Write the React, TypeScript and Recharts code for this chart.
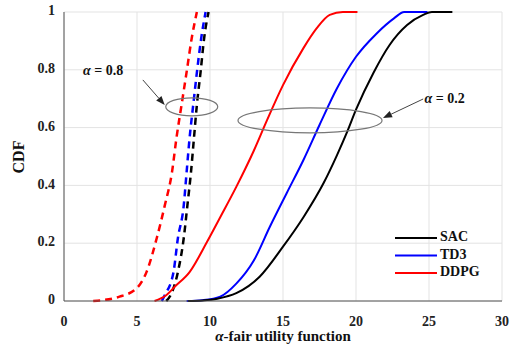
import React from 'react';
import { LineChart, Line, XAxis, YAxis, CartesianGrid, ReferenceDot, ReferenceLine, Legend } from 'recharts';

const sacSolidX = [8.5, 9.5, 10.5, 11.8, 13.4, 15.0, 16.4, 17.8, 18.7, 19.4, 20.0, 21.2, 22.3, 23.5, 24.6, 25.2, 26.6];
const sacSolidY = [0, 0.002, 0.008, 0.027, 0.084, 0.188, 0.29, 0.41, 0.505, 0.586, 0.662, 0.79, 0.886, 0.955, 0.99, 1, 1];
const td3SolidX = [8.4, 9.5, 10.7, 11.8, 13.0, 14.1, 15.25, 16.4, 17.5, 18.7, 20.0, 21.4, 22.6, 23.3, 24.9];
const td3SolidY = [0, 0.003, 0.015, 0.06, 0.14, 0.257, 0.373, 0.488, 0.609, 0.736, 0.845, 0.925, 0.978, 1, 1];
const ddpgSolidX = [6.2, 7.0, 7.6, 8.6, 9.8, 10.7, 11.8, 13.0, 13.9, 15.0, 16.4, 17.3, 18.2, 19.1, 20.1];
const ddpgSolidY = [0, 0.02, 0.05, 0.1, 0.205, 0.29, 0.395, 0.52, 0.625, 0.747, 0.875, 0.943, 0.99, 1, 1];
const ddpgDashX = [2.0, 3.8, 5.0, 5.65, 6.35, 6.9, 7.4, 7.7, 8.05, 8.4, 8.75, 9.1];
const ddpgDashY = [0, 0.015, 0.045, 0.1, 0.217, 0.33, 0.447, 0.563, 0.678, 0.793, 0.91, 1];
const td3DashX = [6.7, 6.9, 7.5, 7.8, 8.2, 8.4, 8.6, 8.85, 9.1, 9.4, 9.7];
const td3DashY = [0, 0.02, 0.1, 0.217, 0.33, 0.447, 0.563, 0.678, 0.79, 0.91, 1];
const sacDashX = [7.0, 7.3, 7.8, 8.2, 8.45, 8.7, 8.9, 9.1, 9.35, 9.6, 9.9];
const sacDashY = [0, 0.02, 0.1, 0.217, 0.33, 0.447, 0.563, 0.678, 0.79, 0.91, 1];

const xTicks = [0, 5, 10, 15, 20, 25, 30];
const yTicks = [0, 0.2, 0.4, 0.6, 0.8, 1];
const legendNames = ['SAC', 'TD3', 'DDPG'];
const legendColors = ['#000000', '#0000ff', '#ff0000'];

const zip = (xs: number[], ys: number[]) => xs.map((x, i) => ({ x, y: ys[i] }));

const FONT = '"Liberation Serif", "DejaVu Serif", serif';
const txt: React.CSSProperties = { fontFamily: FONT, fontWeight: 'bold' };

const fmtY = (v: number) => (v === 0 ? '0' : v === 1 ? '1' : v.toFixed(1));

const XTick = (props: any) => {
  const { x, y, payload } = props;
  return (
    <text x={x} y={y + 7} textAnchor="middle" dominantBaseline="hanging" style={txt} fontSize={14} fill="#222">
      {payload.value}
    </text>
  );
};

const YTick = (props: any) => {
  const { y, payload } = props;
  return (
    <text x={55} y={y} textAnchor="end" dominantBaseline="middle" style={txt} fontSize={14} fill="#222">
      {fmtY(payload.value)}
    </text>
  );
};

const arrowShape = (props: any) => {
  const { x1, y1, x2, y2 } = props;
  if ([x1, y1, x2, y2].some((v) => typeof v !== 'number' || isNaN(v))) return null;
  const ang = Math.atan2(y2 - y1, x2 - x1);
  const L = 9, W = 3.5;
  const bx = x2 - L * Math.cos(ang), by = y2 - L * Math.sin(ang);
  const px = -Math.sin(ang) * W, py = Math.cos(ang) * W;
  return (
    <g>
      <line x1={x1} y1={y1} x2={bx} y2={by} stroke="#444" strokeWidth={1} />
      <polygon points={`${x2},${y2} ${bx + px},${by + py} ${bx - px},${by - py}`} fill="#222" />
    </g>
  );
};

const ellipseShape = (rx: number, ry: number) => (props: any) => (
  <ellipse cx={props.cx} cy={props.cy} rx={rx} ry={ry} fill="none" stroke="#777" strokeWidth={1.2} />
);

const labelShape = (val: string) => (props: any) => (
  <text x={props.cx} y={props.cy} dominantBaseline="middle" style={txt} fontSize={14} fill="#111">
    <tspan fontStyle="italic">α</tspan>
    <tspan> = {val}</tspan>
  </text>
);

const LegendContent = () => (
  <svg width={100} height={56}>
    {legendNames.map((n, i) => (
      <g key={n}>
        <line x1={0} x2={42} y1={10 + i * 17.5} y2={10 + i * 17.5} stroke={legendColors[i]} strokeWidth={2} />
        <text x={45} y={10 + i * 17.5} dominantBaseline="middle" style={txt} fontSize={14} fill="#111">
          {n}
        </text>
      </g>
    ))}
  </svg>
);

export default function App() {
  return (
    <div style={{ position: 'absolute', left: 0, top: 0, background: '#fff', fontFamily: FONT }}>
      <LineChart width={510} height={349} margin={{ top: 12, right: 8, bottom: 0, left: 0 }} style={{ fontFamily: FONT }}>
        <CartesianGrid stroke="#e3e3e3" strokeWidth={1} />
        <XAxis
          dataKey="x"
          type="number"
          domain={[0, 30]}
          ticks={xTicks}
          allowDuplicatedCategory={false}
          height={48}
          tickLine={false}
          axisLine={{ stroke: '#555' }}
          tick={<XTick />}
          label={(p: any) => {
            const vb = p.viewBox || {};
            return (
              <text x={(vb.x ?? 64) + (vb.width ?? 438) / 2} y={(vb.y ?? 301) + 37} textAnchor="middle" dominantBaseline="middle" style={txt} fontSize={15} fill="#111">
                <tspan fontStyle="italic">α</tspan>
                <tspan>-fair utility function</tspan>
              </text>
            );
          }}
        />
        <XAxis xAxisId="top" orientation="top" type="number" domain={[0, 30]} height={0} tick={false} tickLine={false} axisLine={{ stroke: '#555' }} />
        <YAxis
          type="number"
          domain={[0, 1]}
          ticks={yTicks}
          width={64}
          tickLine={false}
          axisLine={{ stroke: '#555' }}
          tick={<YTick />}
          label={() => (
            <text x={20} y={157} transform="rotate(-90 20 157)" textAnchor="middle" dominantBaseline="middle" style={txt} fontSize={16} fill="#111">
              CDF
            </text>
          )}
        />
        <YAxis yAxisId="right" orientation="right" type="number" domain={[0, 1]} width={0} tick={false} tickLine={false} axisLine={{ stroke: '#555' }} />

        <Line type="monotone" data={zip(ddpgDashX, ddpgDashY)} dataKey="y" stroke="#ff0000" strokeWidth={2.5} strokeDasharray="7 5" dot={false} isAnimationActive={false} legendType="none" />
        <Line type="monotone" data={zip(td3DashX, td3DashY)} dataKey="y" stroke="#0000ff" strokeWidth={2.5} strokeDasharray="7 5" dot={false} isAnimationActive={false} legendType="none" />
        <Line type="monotone" data={zip(sacDashX, sacDashY)} dataKey="y" stroke="#000000" strokeWidth={2.5} strokeDasharray="7 5" dot={false} isAnimationActive={false} legendType="none" />
        <Line type="monotone" data={zip(ddpgSolidX, ddpgSolidY)} dataKey="y" name="DDPG" stroke="#ff0000" strokeWidth={2} dot={false} isAnimationActive={false} />
        <Line type="monotone" data={zip(td3SolidX, td3SolidY)} dataKey="y" name="TD3" stroke="#0000ff" strokeWidth={2} dot={false} isAnimationActive={false} />
        <Line type="monotone" data={zip(sacSolidX, sacSolidY)} dataKey="y" name="SAC" stroke="#000000" strokeWidth={2} dot={false} isAnimationActive={false} />

        <ReferenceDot x={8.75} y={0.672} r={1} shape={ellipseShape(26, 9)} ifOverflow="visible" />
        <ReferenceDot x={16.85} y={0.625} r={1} shape={ellipseShape(72, 12.5)} ifOverflow="visible" />
        <ReferenceLine segment={[{ x: 5.4, y: 0.765 }, { x: 6.9, y: 0.678 }]} shape={arrowShape} ifOverflow="visible" />
        <ReferenceLine segment={[{ x: 24.6, y: 0.699 }, { x: 21.85, y: 0.633 }]} shape={arrowShape} ifOverflow="visible" />
        <ReferenceDot x={1.3} y={0.792} r={1} shape={labelShape('0.8')} ifOverflow="visible" />
        <ReferenceDot x={24.7} y={0.695} r={1} shape={labelShape('0.2')} ifOverflow="visible" />

        <Legend
          layout="horizontal"
          verticalAlign="middle"
          align="center"
          content={() => <LegendContent />}
          wrapperStyle={{ position: 'absolute', left: 395, top: 228, width: 100, height: 56 }}
        />
      </LineChart>
    </div>
  );
}
